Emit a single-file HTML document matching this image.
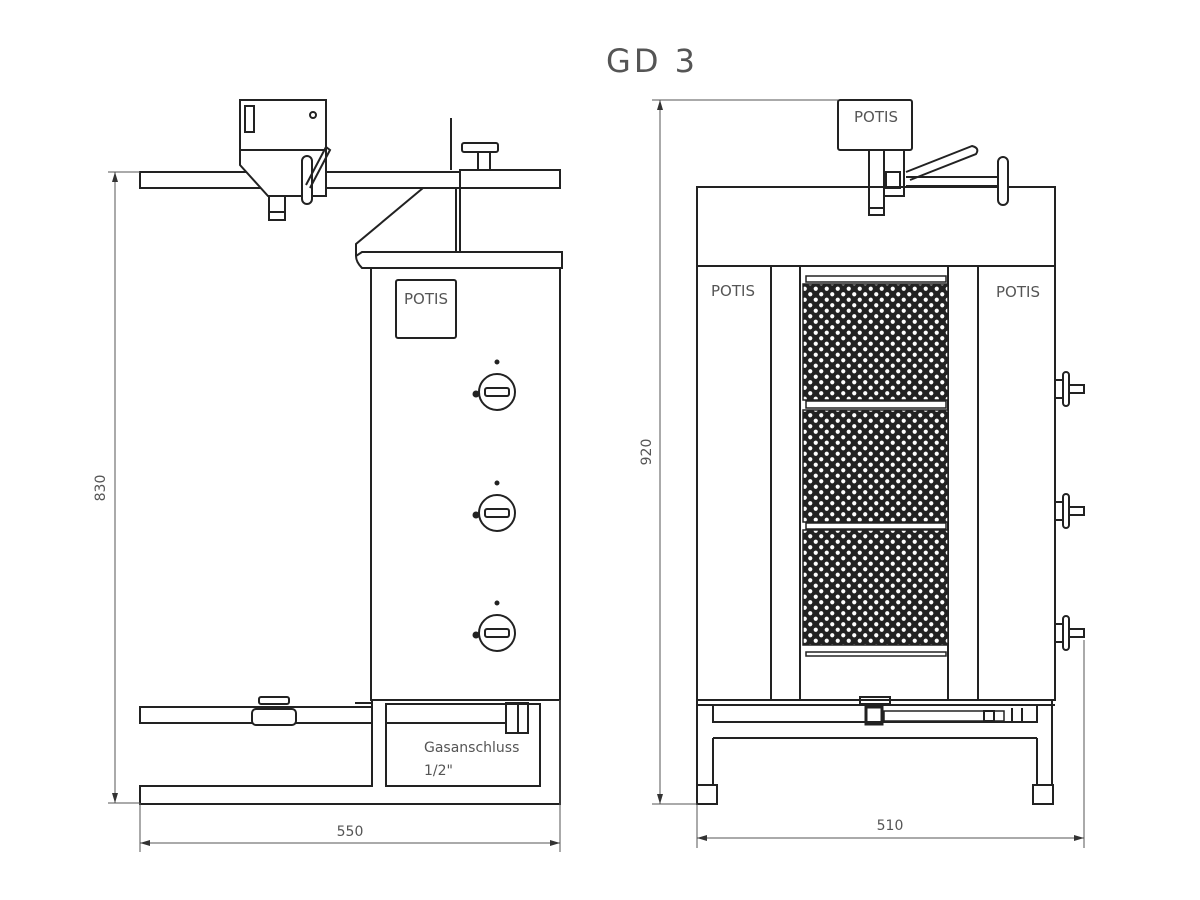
<!DOCTYPE html>
<html><head><meta charset="utf-8"><style>
html,body{margin:0;padding:0;background:#fff;}
svg{display:block}
text{font-family:"DejaVu Sans","Liberation Sans",sans-serif;fill:#555;}
</style></head><body>
<svg width="1200" height="900" viewBox="0 0 1200 900" xmlns="http://www.w3.org/2000/svg">
<defs>
<pattern id="grid" x="802" y="0" width="11" height="11" patternUnits="userSpaceOnUse">
<rect width="11" height="11" fill="#222"/>
<circle cx="2.75" cy="2.75" r="2.1" fill="#fff"/>
<circle cx="8.25" cy="8.25" r="2.1" fill="#fff"/>
</pattern>
<marker id="ar" markerWidth="10" markerHeight="6" refX="10" refY="3" orient="auto-start-reverse" markerUnits="userSpaceOnUse"><path d="M0,0 L10,3 L0,6 z" fill="#333"/></marker>
</defs>
<text x="652" y="72" font-size="32" text-anchor="middle" style="letter-spacing:3px" fill="#333">GD 3</text>

<g fill="none" stroke="#222" stroke-width="2">
<!-- LEFT VIEW -->
<rect x="140" y="172" width="320" height="16"/>
<rect x="460" y="170" width="100" height="18"/>
<path d="M240,100 H326 V196 H268 L240,165 Z" fill="#fff"/>
<line x1="240" y1="150" x2="326" y2="150"/>
<rect x="245" y="106" width="9" height="26"/>
<circle cx="313" cy="115" r="3"/>
<rect x="269" y="196" width="16" height="24"/>
<line x1="269" y1="212" x2="285" y2="212"/>
<rect x="302" y="156" width="10" height="48" rx="5" fill="#fff"/>
<path d="M306,185 L326,147 L330,150 L310,188"/>
<line x1="451" y1="118" x2="451" y2="170"/>
<rect x="462" y="143" width="36" height="9" rx="2"/>
<rect x="478" y="152" width="12" height="18"/>
<path d="M423,188 L356,244 L356,256"/>
<line x1="456" y1="188" x2="456" y2="252"/>
<line x1="460" y1="188" x2="460" y2="252"/>
<path d="M362,252 H562 V268 H362 Q356,262 356,256 Z"/>
<rect x="371" y="268" width="189" height="432"/>
<rect x="396" y="280" width="60" height="58" rx="2"/>
<g>
<circle cx="497" cy="392" r="18"/><rect x="485" y="388" width="24" height="8" rx="2"/><circle cx="497" cy="362" r="1.5" fill="#222"/><circle cx="476" cy="394" r="3.5" fill="#222" stroke="none"/>
<circle cx="497" cy="513" r="18"/><rect x="485" y="509" width="24" height="8" rx="2"/><circle cx="497" cy="483" r="1.5" fill="#222"/><circle cx="476" cy="515" r="3.5" fill="#222" stroke="none"/>
<circle cx="497" cy="633" r="18"/><rect x="485" y="629" width="24" height="8" rx="2"/><circle cx="497" cy="603" r="1.5" fill="#222"/><circle cx="476" cy="635" r="3.5" fill="#222" stroke="none"/>
</g>
<rect x="140" y="707" width="232" height="16"/>
<rect x="252" y="709" width="44" height="16" rx="4" fill="#fff"/>
<rect x="259" y="697" width="30" height="7" rx="2"/>
<line x1="355" y1="703" x2="372" y2="703"/>
<path d="M372,700 V786 H140 V804 H560 V700"/>
<path d="M386,786 V704 H540 V786 Z"/>
<line x1="386" y1="723" x2="506" y2="723"/>
<rect x="506" y="703" width="22" height="30"/>
<line x1="518" y1="703" x2="518" y2="733"/>

<!-- RIGHT VIEW -->
<rect x="697" y="187" width="358" height="79"/>
<rect x="838" y="100" width="74" height="50" rx="2" fill="#fff"/>
<rect x="869" y="150" width="15" height="65"/>
<line x1="869" y1="208" x2="884" y2="208"/>
<rect x="884" y="150" width="20" height="46"/>
<rect x="886" y="172" width="14" height="16"/>
<path d="M906,172 L972,146 Q980,148 976,154 L910,180"/>
<path d="M906,177 H1000 M906,186 H1000"/>
<rect x="998" y="157" width="10" height="48" rx="5" fill="#fff"/>
<rect x="697" y="266" width="358" height="434"/>
<line x1="771" y1="266" x2="771" y2="700"/>
<line x1="800" y1="266" x2="800" y2="700"/>
<line x1="948" y1="266" x2="948" y2="700"/>
<line x1="978" y1="266" x2="978" y2="700"/>
<rect x="806" y="276" width="140" height="6" stroke-width="1.5"/>
<rect x="806" y="652" width="140" height="4" stroke-width="1.5"/>
<line x1="697" y1="705" x2="1055" y2="705"/>
<path d="M713,705 V722 H1037 V705"/>
<path d="M713,738 H1037 M713,738 V785 M1037,738 V785"/>
<rect x="697" y="785" width="20" height="19"/>
<rect x="1033" y="785" width="20" height="19"/>
<line x1="697" y1="700" x2="697" y2="785"/>
<line x1="1052" y1="700" x2="1052" y2="785"/>
<rect x="860" y="697" width="30" height="7"/>
<rect x="866" y="707" width="16" height="17" stroke-width="3"/>
<rect x="884" y="711" width="120" height="10" stroke-width="1.5"/>
<rect x="984" y="711" width="10" height="10"/>
<line x1="1012" y1="708" x2="1012" y2="722"/><line x1="1022" y1="708" x2="1022" y2="722"/>
<g>
<path d="M1055,380 h8 v18 h-8"/><rect x="1063" y="372" width="6" height="34" rx="3"/><rect x="1069" y="385" width="15" height="8"/>
<path d="M1055,502 h8 v18 h-8"/><rect x="1063" y="494" width="6" height="34" rx="3"/><rect x="1069" y="507" width="15" height="8"/>
<path d="M1055,624 h8 v18 h-8"/><rect x="1063" y="616" width="6" height="34" rx="3"/><rect x="1069" y="629" width="15" height="8"/>
</g>
</g>

<g stroke="#222" stroke-width="1.5">
<rect x="803" y="284" width="145" height="116" fill="url(#grid)"/>
<rect x="803" y="410" width="145" height="112" fill="url(#grid)"/>
<rect x="803" y="530" width="145" height="115" fill="url(#grid)"/>
</g>
<g stroke="#222" stroke-width="1.5" fill="#fff">
<rect x="806" y="401" width="140" height="7"/>
<rect x="806" y="523" width="140" height="6"/>
</g>

<g stroke="#555" stroke-width="1" fill="none">
<line x1="108" y1="172" x2="140" y2="172"/><line x1="108" y1="803" x2="140" y2="803"/>
<line x1="115" y1="172" x2="115" y2="803" marker-start="url(#ar)" marker-end="url(#ar)"/>
<line x1="140" y1="803" x2="140" y2="852"/><line x1="560" y1="700" x2="560" y2="852"/>
<line x1="140" y1="843" x2="560" y2="843" marker-start="url(#ar)" marker-end="url(#ar)"/>
<line x1="652" y1="100" x2="838" y2="100"/><line x1="652" y1="804" x2="697" y2="804"/>
<line x1="660" y1="100" x2="660" y2="804" marker-start="url(#ar)" marker-end="url(#ar)"/>
<line x1="697" y1="804" x2="697" y2="848"/><line x1="1084" y1="640" x2="1084" y2="848"/>
<line x1="697" y1="838" x2="1084" y2="838" marker-start="url(#ar)" marker-end="url(#ar)"/>
</g>
<g stroke="none">
<text x="426" y="304" font-size="15" text-anchor="middle">POTIS</text>
<text x="876" y="122" font-size="15" text-anchor="middle">POTIS</text>
<text x="733" y="296" font-size="15" text-anchor="middle">POTIS</text>
<text x="1018" y="297" font-size="15" text-anchor="middle">POTIS</text>
<text x="424" y="752" font-size="14">Gasanschluss</text>
<text x="424" y="775" font-size="14">1/2"</text>
<text x="350" y="836" font-size="14" text-anchor="middle">550</text>
<text x="890" y="830" font-size="14" text-anchor="middle">510</text>
<text transform="translate(105,488) rotate(-90)" font-size="14" text-anchor="middle">830</text>
<text transform="translate(651,452) rotate(-90)" font-size="14" text-anchor="middle">920</text>
</g>
</svg>
</body></html>
